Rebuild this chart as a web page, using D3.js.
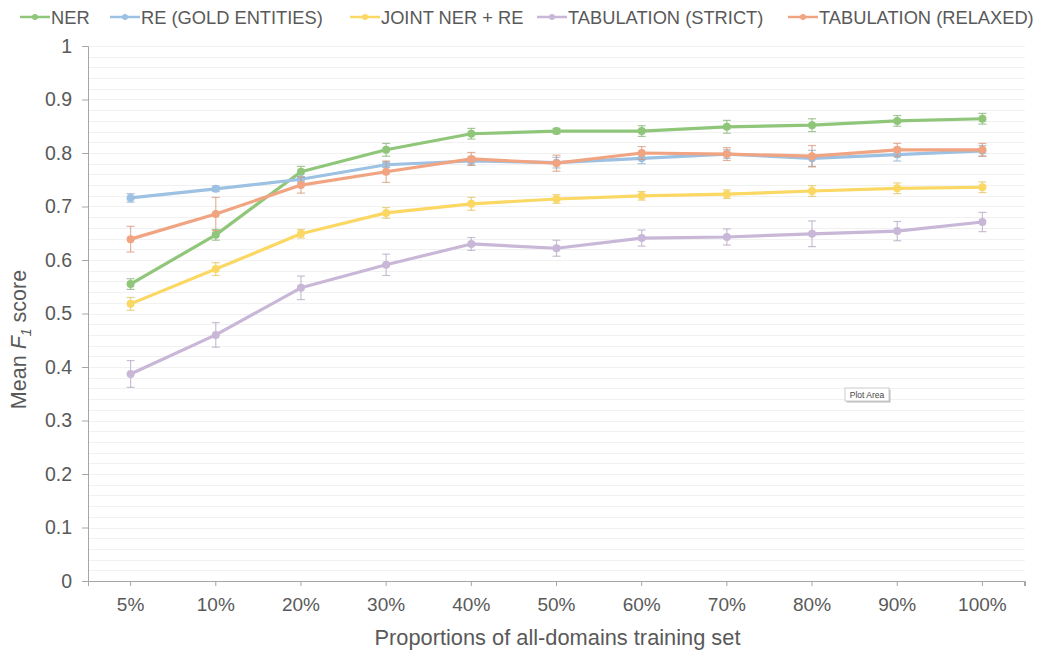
<!DOCTYPE html>
<html>
<head>
<meta charset="utf-8">
<script src="https://cdn.jsdelivr.net/npm/d3@7"></script>
<style>
  html, body { margin: 0; padding: 0; background: #fff; }
  svg { display: block; font-family: "Liberation Sans", Arial, sans-serif; }
</style>
</head>
<body>
<svg id="chart" width="1040" height="651"></svg>
<script>
// Training-set proportions (x categories)
const categories = ["5%", "10%", "20%", "30%", "40%", "50%", "60%", "70%", "80%", "90%", "100%"];
const yTicks = [0, 0.1, 0.2, 0.3, 0.4, 0.5, 0.6, 0.7, 0.8, 0.9, 1];

// Mean F1 per task
const nerMean      = [0.555, 0.647, 0.765, 0.806, 0.836, 0.841, 0.841, 0.849, 0.852, 0.860, 0.864];
const reMean       = [0.716, 0.733, 0.751, 0.778, 0.785, 0.782, 0.790, 0.798, 0.790, 0.797, 0.804];
const jointMean    = [0.518, 0.583, 0.649, 0.688, 0.705, 0.714, 0.720, 0.723, 0.729, 0.734, 0.736];
const strictMean   = [0.387, 0.460, 0.548, 0.591, 0.630, 0.622, 0.641, 0.643, 0.649, 0.654, 0.671];
const relaxedMean  = [0.639, 0.686, 0.740, 0.765, 0.789, 0.781, 0.800, 0.798, 0.794, 0.806, 0.806];

// Error (± standard deviation)
const nerErr       = [0.010, 0.010, 0.010, 0.012, 0.010, 0.005, 0.010, 0.012, 0.012, 0.010, 0.010];
const reErr        = [0.008, 0.005, 0.005, 0.005, 0.008, 0.010, 0.010, 0.008, 0.015, 0.012, 0.010];
const jointErr     = [0.012, 0.012, 0.008, 0.010, 0.012, 0.008, 0.008, 0.008, 0.010, 0.010, 0.010];
const strictErr    = [0.025, 0.023, 0.022, 0.020, 0.012, 0.015, 0.015, 0.015, 0.024, 0.018, 0.018];
const relaxedErr   = [0.024, 0.031, 0.015, 0.020, 0.012, 0.015, 0.012, 0.012, 0.020, 0.012, 0.012];

const seriesNames  = ["NER", "RE (GOLD ENTITIES)", "JOINT NER + RE", "TABULATION (STRICT)", "TABULATION (RELAXED)"];
const seriesColors = ["#8fc67a", "#9dc1e3", "#fbd764", "#c8b7d7", "#f1a481"];

const series = [
  { name: seriesNames[0], color: seriesColors[0], mean: nerMean,     err: nerErr },
  { name: seriesNames[1], color: seriesColors[1], mean: reMean,      err: reErr },
  { name: seriesNames[2], color: seriesColors[2], mean: jointMean,   err: jointErr },
  { name: seriesNames[3], color: seriesColors[3], mean: strictMean,  err: strictErr },
  { name: seriesNames[4], color: seriesColors[4], mean: relaxedMean, err: relaxedErr }
];

const svg = d3.select("#chart");
const margin = { left: 88, right: 15, top: 46, bottom: 70 };
const W = 1040, H = 651;
const x0 = margin.left, x1 = W - margin.right;
const y0 = H - margin.bottom, y1 = margin.top;

const x = d3.scaleBand().domain(categories).range([x0, x1]).paddingInner(0).paddingOuter(0);
const cx = c => x(c) + x.bandwidth() / 2;
const y = d3.scaleLinear().domain([0, 1]).range([y0, y1]);

const axisColor = "#a6a6a6";
const textColor = "#595959";

// Light horizontal gridlines every 0.02
const grid = d3.range(0.02, 1.0001, 0.02);
svg.append("g").selectAll("line").data(grid).join("line")
  .attr("x1", x0).attr("x2", x1)
  .attr("y1", d => Math.round(y(d)) + 0.5).attr("y2", d => Math.round(y(d)) + 0.5)
  .attr("stroke", "#f1f1f1").attr("stroke-width", 1);

// Y axis
const yAxis = d3.axisLeft(y).tickValues(yTicks).tickFormat(d => d3.format("")(+d.toFixed(1))).tickSize(6).tickPadding(10);
const gy = svg.append("g").attr("transform", `translate(${x0},0)`).call(yAxis);
gy.select(".domain").attr("stroke", axisColor);
gy.selectAll(".tick line").attr("stroke", axisColor);
gy.selectAll(".tick text").attr("fill", textColor).attr("font-size", 19.5);

// X axis
const xAxis = d3.axisBottom(x).tickSize(5).tickPadding(12);
const gx = svg.append("g").attr("transform", `translate(0,${y0})`).call(xAxis);
gx.select(".domain").attr("stroke", axisColor);
gx.selectAll(".tick line").attr("stroke", axisColor);
gx.selectAll(".tick text").attr("fill", textColor).attr("font-size", 19);
gx.append("line").attr("x1", x1 - 0.5).attr("x2", x1 - 0.5).attr("y1", 0).attr("y2", 5).attr("stroke", axisColor);

// Axis titles
svg.append("text")
  .attr("x", (x0 + x1) / 2 + 1).attr("y", 645)
  .attr("text-anchor", "middle").attr("fill", textColor).attr("font-size", 21.8)
  .text("Proportions of all-domains training set");

const yt = svg.append("text")
  .attr("transform", `translate(26,${(y0 + y1) / 2 + 26}) rotate(-90)`)
  .attr("text-anchor", "middle").attr("fill", textColor).attr("font-size", 21.5);
yt.append("tspan").text("Mean ");
yt.append("tspan").attr("font-style", "italic").text("F");
yt.append("tspan").attr("font-style", "italic").attr("font-size", 14).attr("dy", 5).text("1");
yt.append("tspan").attr("dy", -5).text(" score");

// Series: error bars, lines, markers
const line = d3.line().x((d, i) => cx(categories[i])).y(d => y(d));
const capW = 4;

series.forEach(s => {
  const g = svg.append("g");
  const eb = g.append("g").attr("stroke", d3.color(s.color).darker(0.3)).attr("stroke-opacity", 0.7).attr("stroke-width", 1.2);
  s.mean.forEach((m, i) => {
    const px = cx(categories[i]);
    const yt = y(m + s.err[i]), yb = y(m - s.err[i]);
    eb.append("line").attr("x1", px).attr("x2", px).attr("y1", yt).attr("y2", yb);
    eb.append("line").attr("x1", px - capW).attr("x2", px + capW).attr("y1", yt).attr("y2", yt);
    eb.append("line").attr("x1", px - capW).attr("x2", px + capW).attr("y1", yb).attr("y2", yb);
  });
  g.append("path").datum(s.mean)
    .attr("d", line).attr("fill", "none")
    .attr("stroke", s.color).attr("stroke-width", 3.2).attr("stroke-linejoin", "round");
  g.selectAll("circle").data(s.mean).join("circle")
    .attr("cx", (d, i) => cx(categories[i])).attr("cy", d => y(d)).attr("r", 4)
    .attr("fill", s.color);
});

// Legend across the top
const legendX = [20, 110, 350, 537, 788];
const lg = svg.append("g").attr("transform", "translate(0,17)");
series.forEach((s, i) => {
  const item = lg.append("g").attr("transform", `translate(${legendX[i]},0)`);
  item.append("line").attr("x1", 0).attr("x2", 30).attr("y1", 0).attr("y2", 0)
    .attr("stroke", s.color).attr("stroke-width", 2.5);
  item.append("circle").attr("cx", 15).attr("cy", 0).attr("r", 3).attr("fill", s.color);
  item.append("text").attr("x", 31).attr("y", 6.5).attr("fill", textColor).attr("font-size", 18.3)
    .text(s.name);
});

// Small "Plot Area" hover label
const tip = svg.append("g").attr("transform", "translate(845,388)");
tip.append("rect").attr("x", 1.5).attr("y", 1.5).attr("width", 44).attr("height", 13).attr("fill", "#bbb");
tip.append("rect").attr("x", 0).attr("y", 0).attr("width", 44).attr("height", 13).attr("fill", "#fff").attr("stroke", "#ccc");
tip.append("text").attr("x", 22).attr("y", 9.5).attr("text-anchor", "middle").attr("font-size", 8.5).attr("fill", "#444").text("Plot Area");
</script>
</body>
</html>
